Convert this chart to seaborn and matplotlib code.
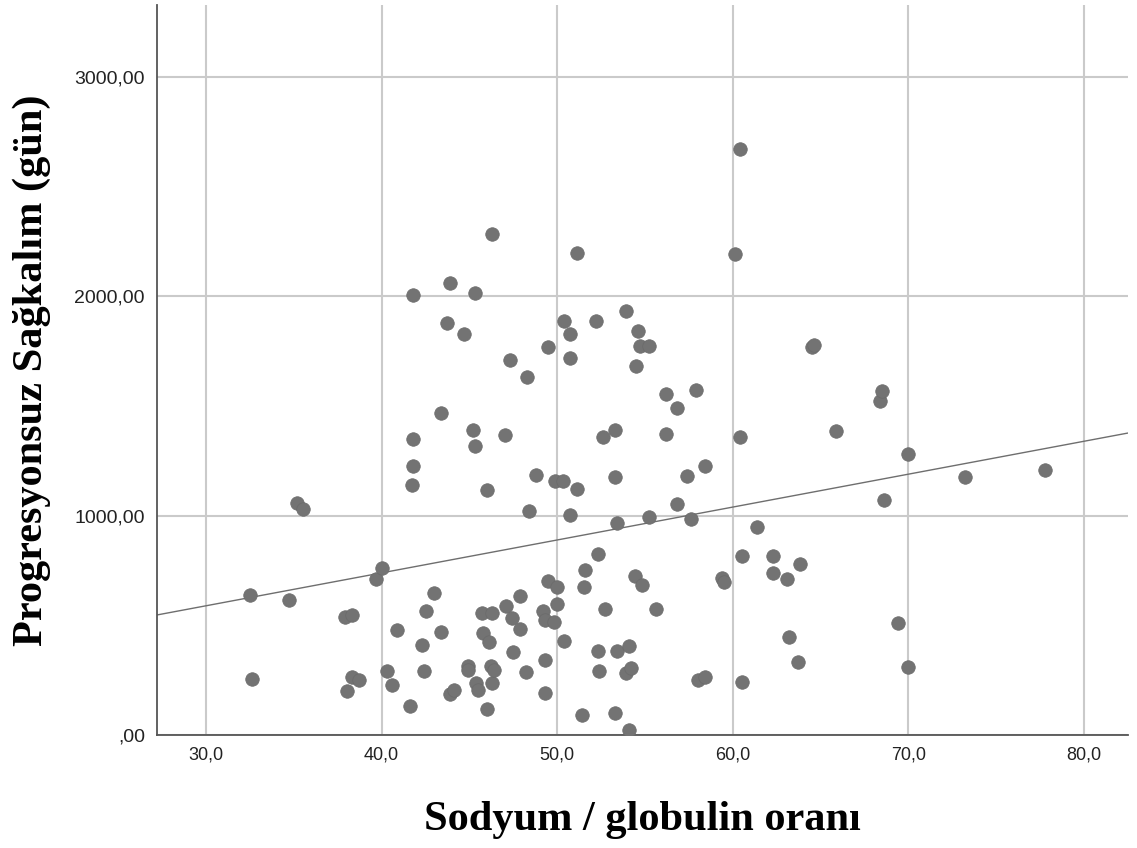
import matplotlib
matplotlib.use("Agg")
import matplotlib.pyplot as plt
import seaborn as sns
import pandas as pd
from matplotlib.ticker import FuncFormatter

# ---- data ----
ratio = [32.5, 32.6, 34.7, 35.2, 35.5, 37.9, 38.3, 38.0, 38.3, 38.7,
         39.7, 40.0, 40.3, 40.6, 40.9, 41.6, 41.8, 41.8, 41.8, 41.7,
         42.3, 42.4, 42.5, 43.0, 43.4, 43.4, 43.7, 43.9, 43.9, 44.1,
         44.7, 44.9, 44.9, 45.3, 45.2, 45.3, 45.4, 45.5, 45.7, 45.8,
         46.0, 46.0, 46.1, 46.2, 46.3, 46.3, 46.3, 46.4, 47.0, 47.1,
         47.3, 47.4, 47.5, 47.9, 47.9, 48.2, 48.3, 48.4, 48.8, 49.2,
         49.3, 49.3, 49.3, 49.5, 49.5, 49.8, 49.9, 50.0, 50.0, 50.3,
         50.4, 50.4, 50.7, 50.7, 50.7, 51.1, 51.1, 51.4, 51.6, 51.5,
         52.2, 52.3, 52.3, 52.4, 52.6, 52.7, 53.3, 53.3, 53.3, 53.4,
         53.4, 53.9, 53.9, 54.1, 54.2, 54.1, 54.4, 54.5, 54.6, 54.7,
         54.8, 55.2, 55.2, 55.6, 56.2, 56.2, 56.8, 56.8, 57.4, 57.6,
         57.9, 58.0, 58.4, 58.4, 59.4, 59.5, 60.1, 60.4, 60.4, 60.5,
         60.5, 61.4, 62.3, 62.3, 63.1, 63.2, 63.7, 63.8, 64.5, 64.6,
         65.9, 68.4, 68.5, 68.6, 69.4, 70.0, 70.0, 73.2, 77.8]
pfs_days = [638, 255, 616, 1058, 1031, 538, 547, 201, 264, 251,
            711, 762, 292, 228, 479, 132, 2006, 1350, 1227, 1140,
            410, 292, 565, 648, 1468, 470, 1879, 2061, 187, 205,
            1829, 315, 296, 2016, 1391, 1318, 237, 205, 556, 465,
            1117, 119, 424, 315, 556, 2285, 237, 296, 1368, 588,
            1710, 533, 378, 634, 483, 287, 1632, 1021, 1186, 565,
            524, 342, 192, 1769, 702, 515, 1158, 675, 597, 1158,
            429, 1888, 1829, 1719, 1003, 2198, 1122, 91, 752, 675,
            1888, 825, 383, 292, 1359, 575, 100, 1391, 1176, 967,
            383, 1933, 283, 406, 306, 23, 725, 1683, 1842, 1774,
            684, 1774, 994, 575, 1555, 1373, 1491, 1053, 1181, 985,
            1573, 251, 1227, 264, 716, 698, 2193, 2672, 1359, 816,
            242, 948, 816, 739, 711, 447, 333, 780, 1769, 1778,
            1386, 1523, 1569, 1072, 511, 1281, 310, 1176, 1208]

fit_intercept = 139.0
fit_slope = 15.0

x_ticks = [30, 40, 50, 60, 70, 80]
y_ticks = [0, 1000, 2000, 3000]

x_label = "Sodyum / globulin oranı"
y_label = "Progresyonsuz Sağkalım (gün)"

df = pd.DataFrame({"ratio": ratio, "pfs": pfs_days})

sns.set_style("white")
fig = plt.figure(figsize=(11.37, 8.48), dpi=100)
ax = fig.add_axes([0.138, 0.1333, 0.854, 0.8608])

xlim = (27.2, 82.5)
ylim = (0, 3328)

sns.scatterplot(data=df, x="ratio", y="pfs", ax=ax, s=95, color="#737373",
                edgecolor="#6a6a6a", linewidth=0.5, zorder=3)

ax.axline((0, fit_intercept), slope=fit_slope, color="#6e6e6e", lw=1.0, zorder=2)

ax.set_xlim(*xlim)
ax.set_ylim(*ylim)
ax.set_xticks(x_ticks)
ax.set_yticks(y_ticks)
ax.xaxis.set_major_formatter(FuncFormatter(lambda v, p: f"{v:.1f}".replace(".", ",")))
ax.yaxis.set_major_formatter(FuncFormatter(
    lambda v, p: ",00" if v == 0 else f"{v:.2f}".replace(".", ",")))

ax.grid(True, color="#cacaca", lw=1.5, zorder=0)
ax.set_axisbelow(True)
for side in ("top", "right"):
    ax.spines[side].set_visible(False)
for side in ("left", "bottom"):
    ax.spines[side].set_color("#555555")
    ax.spines[side].set_linewidth(1.3)

ax.tick_params(axis="both", length=0, colors="#222222")
ax.tick_params(axis="y", pad=8.6, labelsize=14)
ax.tick_params(axis="x", pad=8.6, labelsize=13)
for lab in ax.get_yticklabels():
    lab.set_family(["Liberation Sans", "DejaVu Sans"])
for lab in ax.get_xticklabels():
    lab.set_family(["Liberation Sans Narrow", "Liberation Sans", "DejaVu Sans"])

ax.set_xlabel(x_label, family=["Liberation Serif", "DejaVu Serif"], fontweight="bold",
              fontsize=30.5, labelpad=27, color="black")
ax.set_ylabel(y_label, family=["Liberation Serif", "DejaVu Serif"], fontweight="bold",
              fontsize=30.5, labelpad=17, color="black")

fig.savefig("out.png", dpi=100)
